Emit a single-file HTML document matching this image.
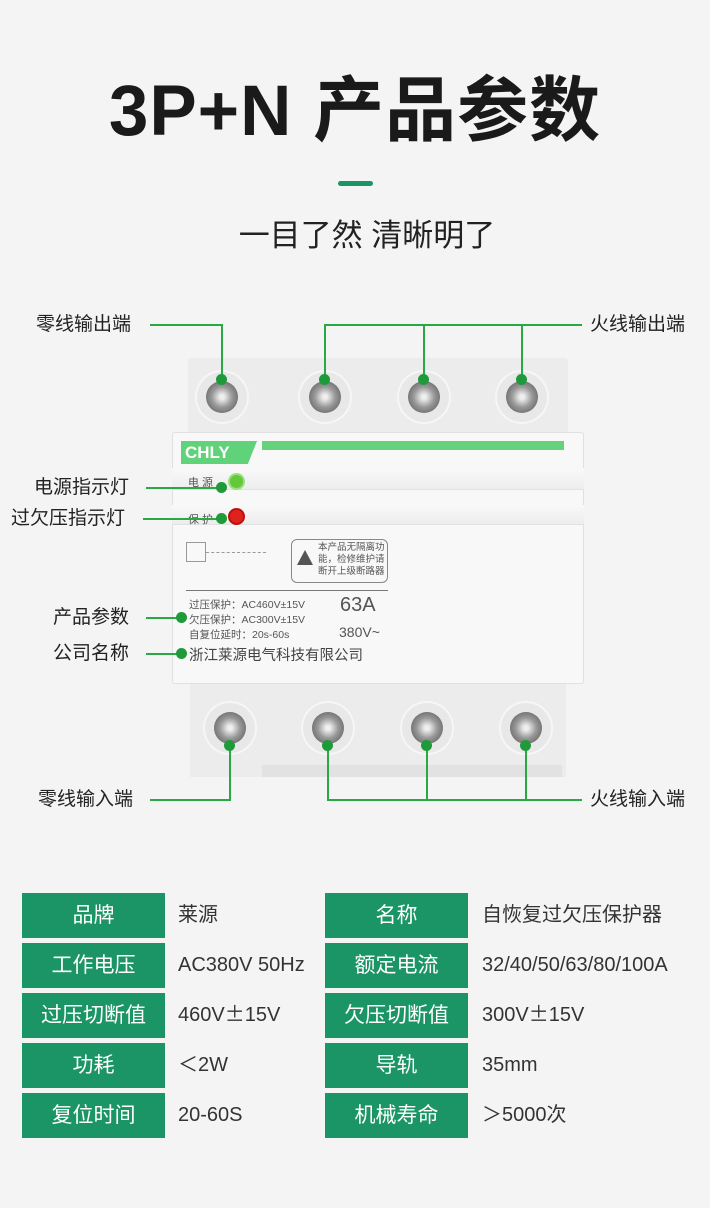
<!DOCTYPE html>
<html><head><meta charset="utf-8"><style>
*{margin:0;padding:0;box-sizing:border-box}
body{width:710px;height:1208px;background:#f4f4f4;position:relative;overflow:hidden;font-family:"Liberation Sans","Noto Sans CJK SC",sans-serif;color:#222}
.a{position:absolute}
.lbl{position:absolute;font-size:19px;color:#222;white-space:nowrap;line-height:24px}
.h{position:absolute;height:2px;background:#2aa845}
.v{position:absolute;width:2px;background:#2aa845}
.d{position:absolute;width:11px;height:11px;border-radius:50%;background:#1e9a3a}
.term{position:absolute;width:50px;height:50px;border-radius:50%;background:#e8e8e8;box-shadow:0 0 0 2px #f6f6f6}
.term:after{content:"";position:absolute;left:9px;top:9px;width:32px;height:32px;border-radius:50%;background:radial-gradient(circle,#eee 10%,#999 45%,#777 70%,#aaa 100%)}
.k{position:absolute;width:143px;height:45px;background:#1c9566;color:#fff;font-size:21px;text-align:center;line-height:45px}
.val{position:absolute;font-size:20px;color:#333;line-height:45px;white-space:nowrap}
.pm{font-family:'Noto Sans CJK SC',sans-serif;line-height:1;vertical-align:baseline}
.sm{position:absolute;font-size:10.5px;color:#555;white-space:nowrap}
</style></head><body>
<div class="a" style="left:0;width:710px;top:70px;text-align:center;font-size:71px;font-weight:bold;line-height:84px;color:#1a1a1a;letter-spacing:1px">3P+N 产品参数</div>
<div class="a" style="left:338px;top:181px;width:35px;height:5px;border-radius:3px;background:#1c9566"></div>
<div class="a" style="left:0;width:710px;top:216px;padding-left:24px;text-align:center;font-size:31px;line-height:40px;color:#222">一目了然 清晰明了</div>

<!-- device -->
<div class="a" style="left:188px;top:358px;width:380px;height:76px;background:#ececec;border-radius:3px"></div>
<div class="a" style="left:190px;top:682px;width:376px;height:95px;background:#ececec"></div>
<div class="a" style="left:262px;top:765px;width:300px;height:12px;background:#e2e2e2"></div>
<div class="a" style="left:172px;top:432px;width:412px;height:252px;background:#f8f8f8;border:1px solid #e0e0e0;border-radius:3px"></div>
<div class="a" style="left:172px;top:468px;width:412px;height:22px;border-bottom:1px solid #e2e2e2;background:linear-gradient(#f9f9f9,#ededed)"></div>
<div class="a" style="left:172px;top:505px;width:412px;height:20px;border-bottom:1px solid #e2e2e2;background:linear-gradient(#f9f9f9,#ededed)"></div>
<div class="a" style="left:181px;top:441px;width:76px;height:23px;background:#5fd27a;color:#fff;font-weight:bold;font-size:17px;line-height:23px;padding-left:4px;clip-path:polygon(0 0,100% 0,88% 100%,0 100%)">CHLY</div>
<div class="a" style="left:262px;top:441px;width:302px;height:9px;background:#67d27c"></div>
<div class="sm" style="left:188px;top:474px;font-size:11px">电 源</div>
<div class="sm" style="left:188px;top:511px;font-size:11px">保 护</div>
<div class="a" style="left:228px;top:473px;width:17px;height:17px;border-radius:50%;background:#63c83c;border:2px solid #9adf7a"></div>
<div class="a" style="left:228px;top:508px;width:17px;height:17px;border-radius:50%;background:#e0221d;border:2px solid #b11"></div>
<div class="a" style="left:186px;top:542px;width:20px;height:20px;border:1px solid #999"></div>
<div class="a" style="left:206px;top:552px;width:60px;height:1px;border-top:1px dashed #999"></div>
<div class="a" style="left:291px;top:539px;width:97px;height:44px;border:1px solid #888;border-radius:6px"></div>
<div class="a" style="left:297px;top:550px;width:0;height:0;border-left:8px solid transparent;border-right:8px solid transparent;border-bottom:15px solid #555"></div>
<div class="sm" style="left:318px;top:542px;font-size:9.5px;line-height:12px">本产品无隔离功<br>能，检修维护请<br>断开上级断路器</div>
<div class="a" style="left:186px;top:590px;width:202px;height:1px;background:#777"></div>
<div class="sm" style="left:189px;top:597px">过压保护：AC460V±15V</div>
<div class="sm" style="left:189px;top:612px">欠压保护：AC300V±15V</div>
<div class="sm" style="left:189px;top:627px">自复位延时：20s-60s</div>
<div class="sm" style="left:340px;top:594px;font-size:20px">63A</div>
<div class="sm" style="left:339px;top:624px;font-size:14px">380V~</div>
<div class="sm" style="left:189px;top:644px;font-size:14.5px;color:#444">浙江莱源电气科技有限公司</div>

<div class="term" style="left:197px;top:372px"></div>
<div class="term" style="left:300px;top:372px"></div>
<div class="term" style="left:399px;top:372px"></div>
<div class="term" style="left:497px;top:372px"></div>
<div class="term" style="left:205px;top:703px"></div>
<div class="term" style="left:303px;top:703px"></div>
<div class="term" style="left:402px;top:703px"></div>
<div class="term" style="left:501px;top:703px"></div>

<!-- connectors -->
<div class="lbl" style="left:36px;top:313px">零线输出端</div>
<div class="h" style="left:150px;top:324px;width:73px"></div>
<div class="v" style="left:221px;top:324px;height:55px"></div>
<div class="d" style="left:216px;top:374px"></div>
<div class="lbl" style="left:590px;top:313px">火线输出端</div>
<div class="h" style="left:324px;top:324px;width:258px"></div>
<div class="v" style="left:324px;top:324px;height:55px"></div><div class="d" style="left:319px;top:374px"></div>
<div class="v" style="left:423px;top:324px;height:55px"></div><div class="d" style="left:418px;top:374px"></div>
<div class="v" style="left:521px;top:324px;height:55px"></div><div class="d" style="left:516px;top:374px"></div>

<div class="lbl" style="left:34px;top:476px">电源指示灯</div>
<div class="h" style="left:146px;top:487px;width:76px"></div><div class="d" style="left:216px;top:482px"></div>
<div class="lbl" style="left:11px;top:507px">过欠压指示灯</div>
<div class="h" style="left:143px;top:518px;width:79px"></div><div class="d" style="left:216px;top:513px"></div>
<div class="lbl" style="left:53px;top:606px">产品参数</div>
<div class="h" style="left:146px;top:617px;width:36px"></div><div class="d" style="left:176px;top:612px"></div>
<div class="lbl" style="left:53px;top:642px">公司名称</div>
<div class="h" style="left:146px;top:653px;width:36px"></div><div class="d" style="left:176px;top:648px"></div>

<div class="lbl" style="left:38px;top:788px">零线输入端</div>
<div class="h" style="left:150px;top:799px;width:81px"></div>
<div class="v" style="left:229px;top:744px;height:57px"></div><div class="d" style="left:224px;top:740px"></div>
<div class="lbl" style="left:590px;top:788px">火线输入端</div>
<div class="h" style="left:327px;top:799px;width:255px"></div>
<div class="v" style="left:327px;top:744px;height:57px"></div><div class="d" style="left:322px;top:740px"></div>
<div class="v" style="left:426px;top:744px;height:57px"></div><div class="d" style="left:421px;top:740px"></div>
<div class="v" style="left:525px;top:744px;height:57px"></div><div class="d" style="left:520px;top:740px"></div>

<!-- table -->
<div class="k" style="left:22px;top:893px">品牌</div><div class="val" style="left:178px;top:893px">莱源</div>
<div class="k" style="left:325px;top:893px">名称</div><div class="val" style="left:482px;top:893px">自恢复过欠压保护器</div>
<div class="k" style="left:22px;top:943px">工作电压</div><div class="val" style="left:178px;top:943px">AC380V 50Hz</div>
<div class="k" style="left:325px;top:943px">额定电流</div><div class="val" style="left:482px;top:943px">32/40/50/63/80/100A</div>
<div class="k" style="left:22px;top:993px">过压切断值</div><div class="val" style="left:178px;top:993px">460V<span class="pm">±</span>15V</div>
<div class="k" style="left:325px;top:993px">欠压切断值</div><div class="val" style="left:482px;top:993px">300V<span class="pm">±</span>15V</div>
<div class="k" style="left:22px;top:1043px">功耗</div><div class="val" style="left:178px;top:1043px">＜2W</div>
<div class="k" style="left:325px;top:1043px">导轨</div><div class="val" style="left:482px;top:1043px">35mm</div>
<div class="k" style="left:22px;top:1093px">复位时间</div><div class="val" style="left:178px;top:1093px">20-60S</div>
<div class="k" style="left:325px;top:1093px">机械寿命</div><div class="val" style="left:482px;top:1093px">＞5000次</div>
</body></html>
